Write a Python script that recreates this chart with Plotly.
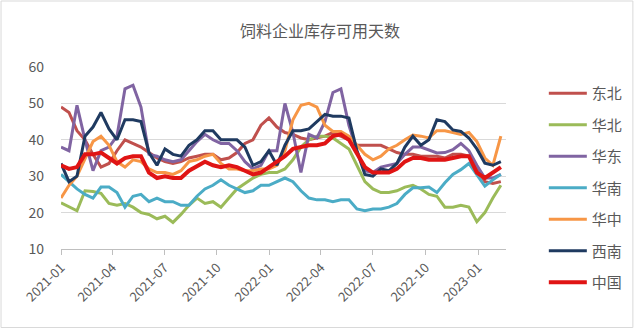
import pandas as pd
import plotly.graph_objects as go

dates = pd.date_range("2021-01-01", periods=56, freq="14D")

dongbei = [49, 47.5, 42.5, 40, 36, 32.5, 33.5, 37, 40, 39, 38, 36.5, 35, 34, 33.5, 34, 35, 35.5, 36, 36,
           34.5, 35, 36.5, 39, 40, 44, 46, 43.5, 42, 41.5, 40.5, 40, 40.5, 41, 42, 41, 40, 38.5, 38.5, 38.5,
           38.5, 37.5, 36.5, 36, 36, 35.5, 35.5, 35.5, 35, 36, 36, 35.5, 32, 28.5, 28, 28.5]
huabei = [22.7, 21.5, 20.5, 26, 25.8, 25.3, 22.5, 22, 22.5, 21.5, 20, 19.5, 18.3, 19, 17.3, 19.5, 22, 24, 22.5, 23,
          21.5, 24, 26.5, 28, 29.5, 30.5, 31, 31, 32, 34.5, 38, 40, 41, 41, 40.5, 39, 37.5, 33, 28.5, 26.5,
          25.5, 25.5, 26, 27, 27.5, 26.5, 25, 24.5, 21.5, 21.5, 22, 21.5, 17.5, 20, 24, 27.5]
huadong = [38, 37, 49.5, 40, 31.5, 37, 38, 41, 54, 55, 49, 36, 35.5, 34.5, 34, 34.5, 37, 39.5, 41.5, 40,
           39, 39, 37, 34, 32, 33, 37, 37, 50, 42, 31, 41.5, 40.5, 45, 53, 54, 44, 37, 31.5, 31,
           32.5, 33, 33.5, 36, 38, 38, 37.3, 36.4, 36.5, 37.3, 39, 37, 33, 29.5, 29.5, 30.5]
huanan = [30.5, 28.5, 26.5, 25, 24, 27, 27, 25.5, 21.5, 24.5, 25, 23, 24, 23, 23, 22, 22, 24.5, 26.5, 27.5,
          29, 27.5, 26.5, 25.5, 26, 27.5, 27.5, 28.5, 29.5, 28.5, 26, 24, 23.5, 23.5, 23, 23.5, 23.5, 21, 20.5, 21,
          21, 21.5, 22.5, 25, 26.8, 26.8, 27, 25.5, 28.2, 30.5, 31.8, 33.5, 30.5, 27.3, 29, 30.5]
huazhong = [24, 27.5, 30, 35, 39.5, 41, 38.5, 34, 32.5, 34.5, 34, 32, 31, 31, 30.5, 31.5, 34, 34.5, 35.5, 36,
            33.5, 32, 32, 31.5, 31.5, 32, 32, 33, 37, 45.5, 49.5, 50, 49, 44, 42.3, 42.3, 41, 38.5, 36, 34.5,
            35.5, 37.5, 38.5, 40, 41.3, 41, 40.5, 42.5, 42.5, 42, 41.5, 42, 39.5, 35, 33, 41]
xinan = [33.5, 28.5, 30, 41, 43.5, 47.5, 43, 40, 45.5, 45.5, 45, 36.5, 33, 37.5, 36, 35.5, 38.5, 40, 42.5, 42.5,
         40, 40, 40, 38, 33, 34, 37, 33, 38.5, 42.5, 42.5, 43, 45, 47, 46.5, 46.5, 46, 37, 30.5, 30,
         32, 31.5, 33.5, 38, 41, 38.5, 40, 45.5, 45, 42.7, 42.3, 40.5, 37.5, 33.6, 33, 34]
zhongguo = [33, 32, 32.5, 36, 36, 36.5, 35, 33.5, 35, 35.5, 35.5, 31, 29.5, 30, 29.5, 29.5, 31.5, 32.7, 34, 33,
            32.5, 33, 32.5, 31.5, 30.5, 31, 32.5, 34, 35.5, 37.5, 38, 38.5, 38.5, 39, 41, 41.5, 40, 36, 32.5, 31,
            31, 31, 32, 34, 35, 35, 34.5, 34.5, 34.5, 35, 35.5, 35.5, 31, 29.5, 31, 32.5]

names = ["东北", "华北", "华东", "华南", "华中", "西南", "中国"]
series = [dongbei, huabei, huadong, huanan, huazhong, xinan, zhongguo]
colors = ["#C0504D", "#9BBB59", "#8064A2", "#4BACC6", "#F79646", "#1F3A60", "#E01414"]
widths = [3, 3, 3, 3, 3, 3, 4]

tick_vals = ["2021-01-01", "2021-04-01", "2021-07-01", "2021-10-01", "2022-01-01",
             "2022-04-01", "2022-07-01", "2022-10-01", "2023-01-01"]
tick_text = ["2021-01", "2021-04", "2021-07", "2021-10", "2022-01",
             "2022-04", "2022-07", "2022-10", "2023-01"]

FONT = "Noto Sans CJK SC"
GRAY = "#595959"

fig = go.Figure()
for i, (n, s, c, w) in enumerate(zip(names, series, colors, widths)):
    fig.add_trace(go.Scatter(x=dates, y=s, name=n, mode="lines",
                             line=dict(color=c, width=w),
                             legendgroup=str(i)))

fig.update_layout(
    width=640, height=329,
    margin=dict(l=61, r=130, t=67, b=80),
    paper_bgcolor="white", plot_bgcolor="white",
    font=dict(family=FONT, color=GRAY),
    title=dict(text="饲料企业库存可用天数", x=0.5, xanchor="center", y=1 - 31.7 / 329,
               yanchor="middle", font=dict(size=16, color=GRAY, family=FONT)),
    showlegend=True,
    legend=dict(x=1.085, xanchor="left", y=0.945, yanchor="top",
                font=dict(size=15, color=GRAY, family=FONT),
                tracegroupgap=9, itemwidth=38, bgcolor="rgba(0,0,0,0)",
                maxheight=320),
    xaxis=dict(type="date", range=["2021-01-01", "2023-02-19"],
               tickvals=tick_vals, ticktext=tick_text, tickangle=-45,
               tickfont=dict(size=13, color=GRAY, family=FONT),
               showgrid=False, showline=True, linecolor="#BFBFBF", linewidth=1,
               ticks="outside", ticklen=5, tickcolor="#BFBFBF", zeroline=False),
    yaxis=dict(range=[10, 60], dtick=10, tick0=10,
               tickfont=dict(size=14, color=GRAY, family=FONT),
               showgrid=True, gridcolor="#D9D9D9", gridwidth=1,
               showline=False, zeroline=False, ticks="", ticklabelstandoff=16),
    shapes=[dict(type="rect", xref="paper", yref="paper",
                 x0=-61 / 449 + 0.5 / 449, x1=1 + 128 / 449, y0=-80 / 182 + 1.5 / 182, y1=1 + 66 / 182,
                 line=dict(color="#D9D9D9", width=1), fillcolor="rgba(0,0,0,0)", layer="below")],
)

fig.write_html("out.html")
